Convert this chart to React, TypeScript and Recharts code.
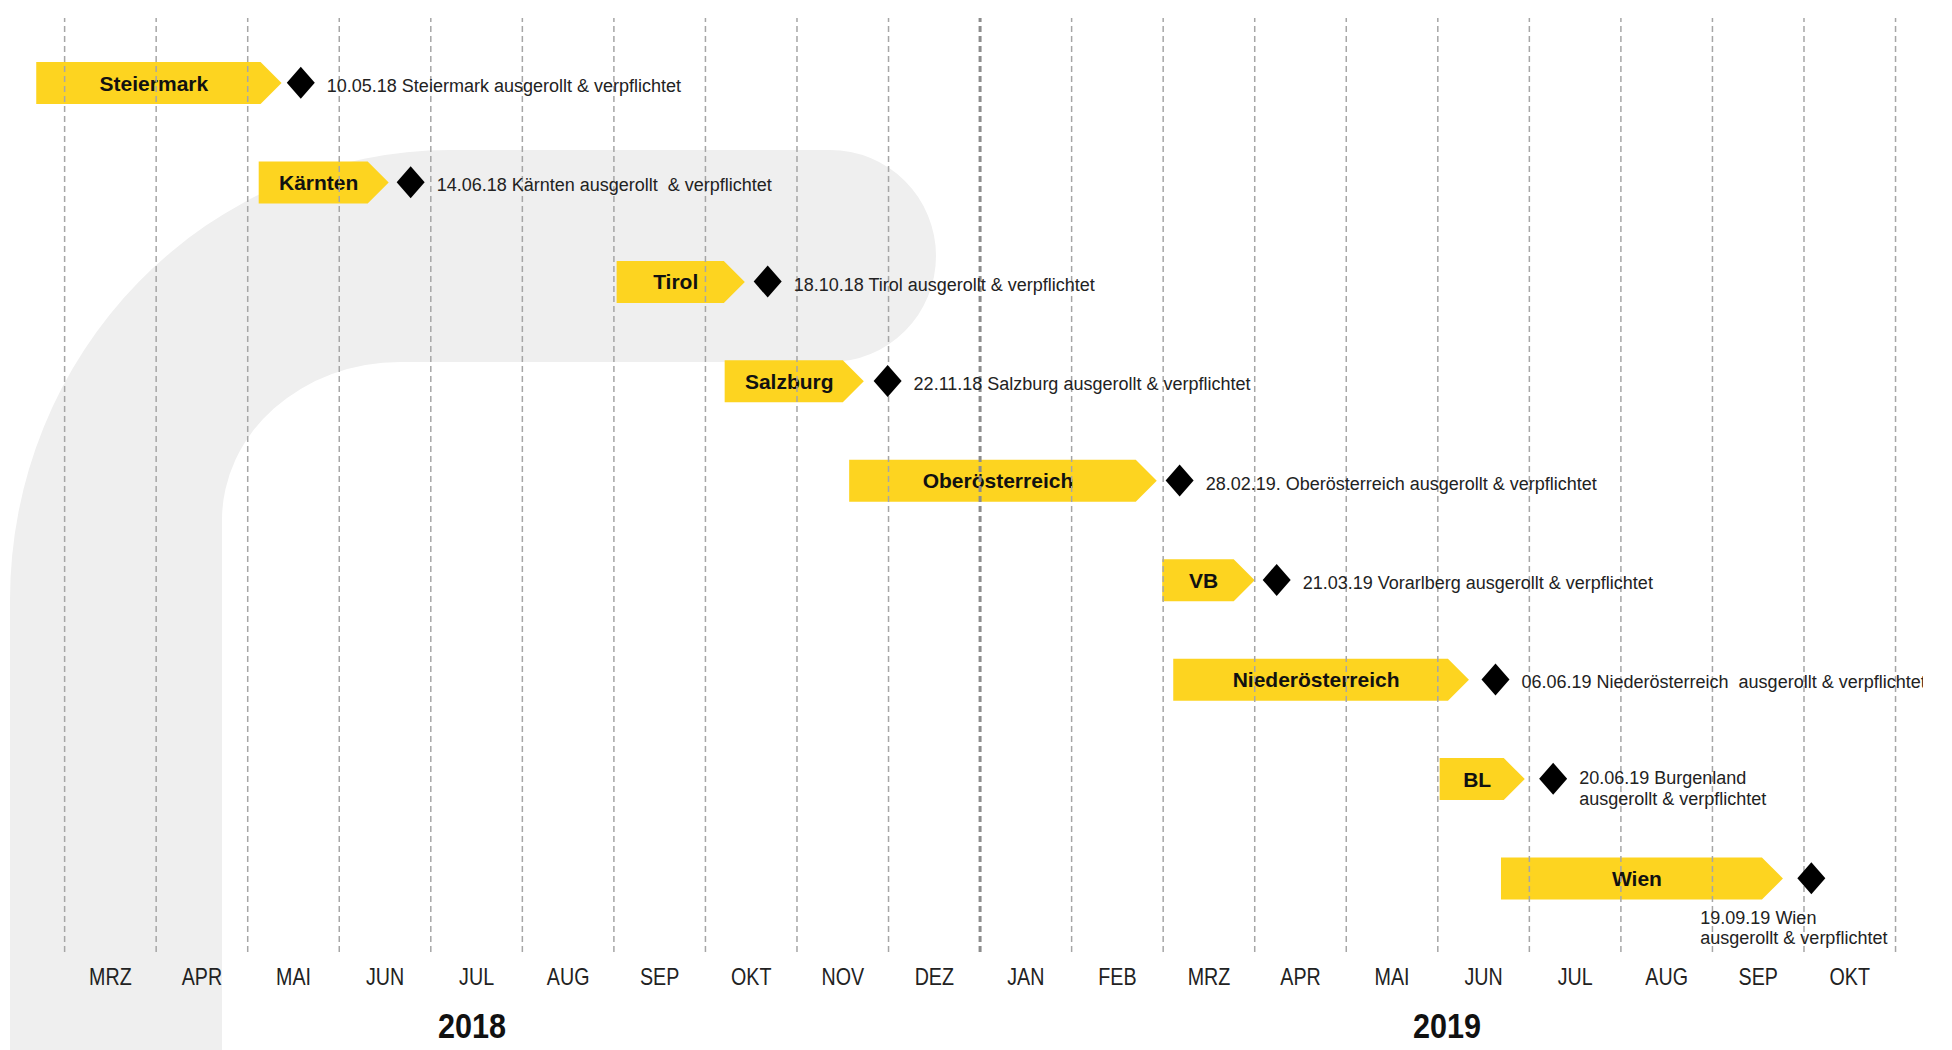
import React from "react";
import { ComposedChart, Bar, Scatter, XAxis, YAxis, ReferenceLine } from "recharts";

const FONT = "'Liberation Sans', Arial, sans-serif";

// month axis: index 0 = start of MRZ 2018
const months = ["MRZ", "APR", "MAI", "JUN", "JUL", "AUG", "SEP", "OKT", "NOV", "DEZ", "JAN", "FEB", "MRZ", "APR", "MAI", "JUN", "JUL", "AUG", "SEP", "OKT"];
const years = ["2018", "2019"];
const yearCenters = [4.45, 15.1];

const regions = ["Steiermark", "Kärnten", "Tirol", "Salzburg", "Oberösterreich", "VB", "Niederösterreich", "BL", "Wien"];
// rollout arrows, start / tip, in months
const rollStart = [-0.31, 2.12, 6.03, 7.21, 8.57, 11.99, 12.11, 15.02, 15.69];
const rollEnd = [2.37, 3.54, 7.43, 8.73, 11.93, 13.0, 15.34, 15.95, 18.77];
// milestone diamonds, as drawn
const signedOff = [2.58, 3.78, 7.68, 8.99, 12.18, 13.24, 15.63, 16.26, 19.08];
const notes = [
  ["10.05.18 Steiermark ausgerollt & verpflichtet"],
  ["14.06.18 Kärnten ausgerollt  & verpflichtet"],
  ["18.10.18 Tirol ausgerollt & verpflichtet"],
  ["22.11.18 Salzburg ausgerollt & verpflichtet"],
  ["28.02.19. Oberösterreich ausgerollt & verpflichtet"],
  ["21.03.19 Vorarlberg ausgerollt & verpflichtet"],
  ["06.06.19 Niederösterreich  ausgerollt & verpflichtet"],
  ["20.06.19 Burgenland", "ausgerollt & verpflichtet"],
  ["19.09.19 Wien", "ausgerollt & verpflichtet"],
];
const noteBelow = [false, false, false, false, false, false, false, false, true];

const monthTicks = months.map((_, i) => i + 0.5);
const boundaries = [...months.map((_, i) => i), months.length];

const rows = regions.map((name, i) => ({
  name,
  span: [rollStart[i], rollEnd[i]],
  done: signedOff[i],
  note: notes[i],
  below: noteBelow[i],
}));

function Arrow(props: any) {
  const { x, y, width, height, payload } = props;
  const tip = 21;
  const body = Math.max(width - tip, 0);
  const cy = y + height / 2;
  return (
    <g>
      <path
        d={`M${x},${y}H${x + body}L${x + width},${cy}L${x + body},${y + height}H${x}Z`}
        fill="#FDD420"
      />
      <text
        x={x + width / 2 - 5}
        y={cy}
        textAnchor="middle"
        dominantBaseline="central"
        fontFamily={FONT}
        fontWeight={700}
        fontSize={21}
        fill="#111"
      >
        {payload.name}
      </text>
    </g>
  );
}

function Milestone(props: any) {
  const { cx, cy, payload } = props;
  const lines: string[] = payload.note;
  const twoLine = lines.length > 1;
  return (
    <g>
      <path d={`M${cx},${cy - 16}L${cx + 14},${cy}L${cx},${cy + 16}L${cx - 14},${cy}Z`} fill="#000" />
      {lines.map((t, k) => (
        <text
          key={k}
          x={payload.below ? cx - 111 : cx + 26}
          y={payload.below ? cy + 40 + k * 20 : twoLine ? cy - 1 + k * 21 : cy + 3}
          dominantBaseline="central"
          fontFamily={FONT}
          fontSize={18}
          fill="#222"
          style={{ whiteSpace: "pre" }}
        >
          {t}
        </text>
      ))}
    </g>
  );
}

function MonthTick(props: any) {
  const { x, y, index } = props;
  return (
    <text
      transform={`translate(${x},${y}) scale(0.82,1)`}
      textAnchor="middle"
      dominantBaseline="central"
      fontFamily={FONT}
      fontSize={24}
      fill="#222"
    >
      {months[index]}
    </text>
  );
}

function YearTick(props: any) {
  const { x, y, index } = props;
  return (
    <text
      transform={`translate(${x},${y}) scale(0.85,1)`}
      textAnchor="middle"
      dominantBaseline="central"
      fontFamily={FONT}
      fontWeight={700}
      fontSize={36}
      fill="#111"
    >
      {years[index]}
    </text>
  );
}

export default function App() {
  return (
    <div style={{ position: "absolute", left: 0, top: 0, width: 1952, height: 1050, overflow: "hidden", background: "#fff" }}>
      <svg width={1952} height={1050} style={{ position: "absolute", left: 0, top: 0 }}>
        <path
          d="M10,1050 L10,600 A440,450 0 0 1 450,150 L830,150 A106,106 0 0 1 830,362 L400,362 A178,158 0 0 0 222,520 L222,1050 Z"
          fill="#efefef"
        />
      </svg>
      <div style={{ position: "absolute", left: 0, top: 0 }}>
        <ComposedChart
          width={1952}
          height={1050}
          data={rows}
          layout="vertical"
          margin={{ top: 18, right: 29, bottom: 8, left: 28 }}
        >
          <XAxis
            type="number"
            domain={[-0.4, 20.3]}
            ticks={monthTicks}
            interval={0}
            axisLine={false}
            tickLine={false}
            tickMargin={19}
            height={40}
            tick={<MonthTick />}
            allowDataOverflow
          />
          <XAxis
            xAxisId="year"
            type="number"
            domain={[-0.4, 20.3]}
            ticks={yearCenters}
            interval={0}
            axisLine={false}
            tickLine={false}
            tickMargin={28}
            height={50}
            tick={<YearTick />}
            allowDataOverflow
          />
          <YAxis type="category" dataKey="name" hide padding={{ top: 15, bottom: 24 }} />
          <Bar dataKey="span" barSize={42} shape={(p: any) => <Arrow {...p} />} isAnimationActive={false} />
          {boundaries.map((b) => (
            <ReferenceLine
              key={b}
              x={b}
              stroke={b === 10 ? "#8c8c8c" : "#a6a6a6"}
              strokeWidth={b === 10 ? 3 : 1.5}
              strokeDasharray="6 4"
            />
          ))}
          <Scatter dataKey="done" shape={(p: any) => <Milestone {...p} />} isAnimationActive={false} />
        </ComposedChart>
      </div>
    </div>
  );
}
